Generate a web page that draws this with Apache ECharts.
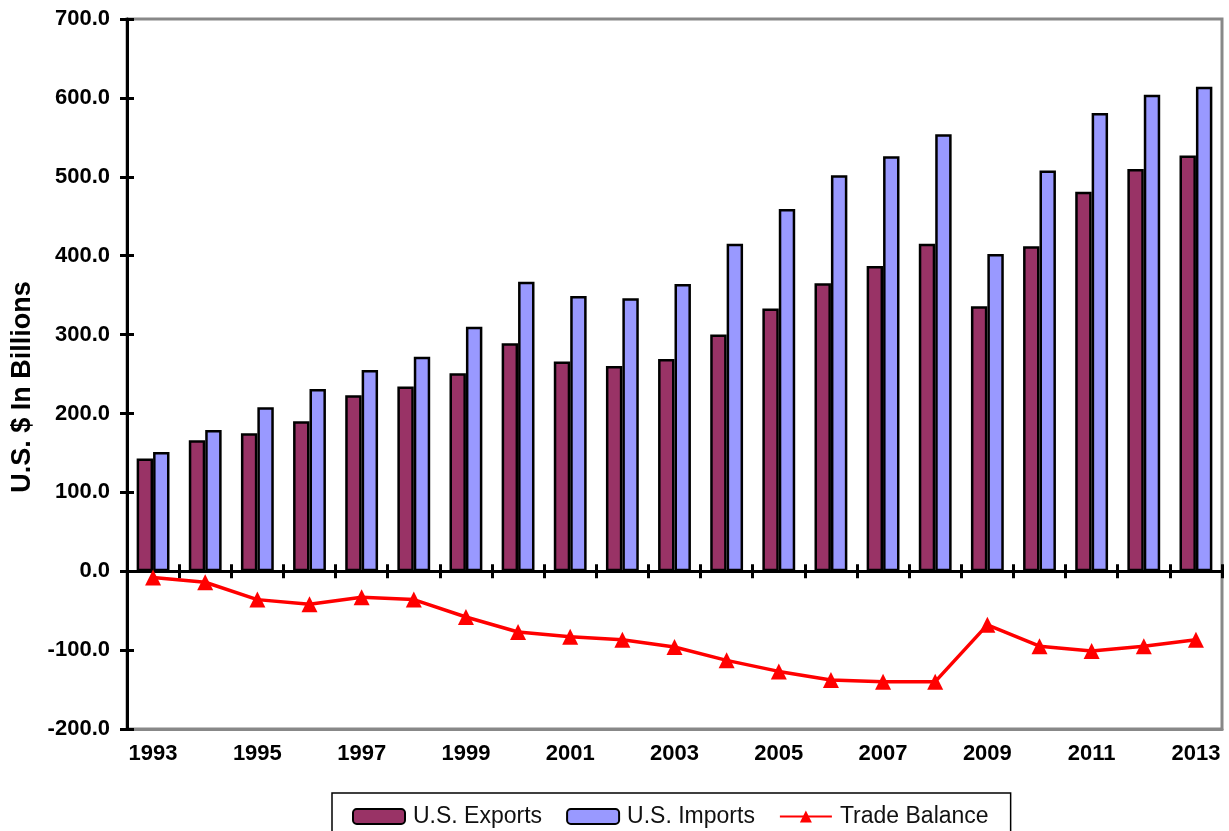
<!DOCTYPE html>
<html><head><meta charset="utf-8">
<script src="https://cdn.jsdelivr.net/npm/echarts@6/dist/echarts.min.js"></script>
<style>html,body{margin:0;padding:0;background:#fff;}#c{width:1229px;height:831px;}</style>
</head><body><div id="c"></div>
<script>
var years = ['1993','1994','1995','1996','1997','1998','1999','2000','2001','2002','2003','2004','2005','2006','2007','2008','2009','2010','2011','2012','2013'];
var exportsData = [143,166,175,190,223,234,251,289,266,260,269,300,333,365,387,415,336,412,481,510,527];
var importsData = [151,179,208,231,255,272,310,367,349,346,364,415,459,502,526,554,402,508,581,604,614];
var balanceData = [-8,-14,-36,-42,-33,-36,-58,-77,-83,-87,-96,-113,-127,-138,-140,-140,-68,-95,-101,-95,-87];
var yTicks = {min:-200, max:700, interval:100};
var yTitle = 'U.S. $ In Billions';

var font = 'Liberation Sans, Arial, sans-serif';
var chart = echarts.init(document.getElementById('c'));
chart.setOption({
  animation:false,
  grid:{left:127,right:7,top:19,bottom:102,show:true,borderColor:'#888',borderWidth:3,backgroundColor:'#fff'},
  graphic:[{type:'text',x:23,y:387,rotation:Math.PI/2,
    style:{text:yTitle,fontFamily:font,fontWeight:'bold',fontSize:27,fill:'#000',align:'center',verticalAlign:'middle'}}],
  legend:{
    top:793,left:332,
    padding:[12,22,12,20],
    borderColor:'#000',borderWidth:1.5,
    itemWidth:52,itemHeight:15,itemGap:24,
    textStyle:{fontFamily:font,fontSize:23,color:'#111',padding:[0,0,0,3]},
    data:['U.S. Exports','U.S. Imports','Trade Balance']
  },
  xAxis:[
    {type:'category',data:years,position:'bottom',
     axisLine:{onZero:true,lineStyle:{color:'#000',width:3}},
     axisTick:{show:true,length:7,lineStyle:{color:'#000',width:3}},
     axisLabel:{show:false},splitLine:{show:false}},
    {type:'category',data:years,position:'bottom',
     axisLine:{show:true,onZero:true,lineStyle:{color:'#000',width:0,opacity:0}},
     axisTick:{show:true,inside:true,length:7,lineStyle:{color:'#000',width:3}},
     axisLabel:{show:false},splitLine:{show:false}},
    {type:'category',data:years,position:'bottom',
     axisLine:{onZero:false,lineStyle:{color:'#888',width:3}},
     axisTick:{show:false},
     axisLabel:{interval:1,margin:14,fontFamily:font,fontWeight:'bold',fontSize:22,color:'#000'},
     splitLine:{show:false}}
  ],
  yAxis:[
    {type:'value',min:yTicks.min,max:yTicks.max,interval:yTicks.interval,
     axisLine:{show:true,lineStyle:{color:'#000',width:3}},
     axisTick:{show:true,length:7,lineStyle:{color:'#000',width:3}},
     axisLabel:{margin:17,fontFamily:font,fontWeight:'bold',fontSize:22,color:'#000',formatter:function(v){return v.toFixed(1);}},
     splitLine:{show:false}},
    {type:'value',min:yTicks.min,max:yTicks.max,interval:yTicks.interval,position:'left',
     axisLine:{show:false},
     axisTick:{show:true,inside:true,length:7,lineStyle:{color:'#000',width:3}},
     axisLabel:{show:false},splitLine:{show:false}}
  ],
  series:[
    {name:'U.S. Exports',type:'bar',data:exportsData,barGap:'0%',barCategoryGap:'37%',
     itemStyle:{color:'#993366',borderColor:'#000',borderWidth:2.5}},
    {name:'U.S. Imports',type:'bar',data:importsData,barGap:'0%',barCategoryGap:'37%',
     itemStyle:{color:'#9999FF',borderColor:'#000',borderWidth:2.5}},
    {name:'Trade Balance',type:'line',data:balanceData,z:5,
     symbol:'triangle',symbolSize:16,
     lineStyle:{color:'#FF0000',width:3.5},
     itemStyle:{color:'#FF0000'}}
  ]
});
</script></body></html>
